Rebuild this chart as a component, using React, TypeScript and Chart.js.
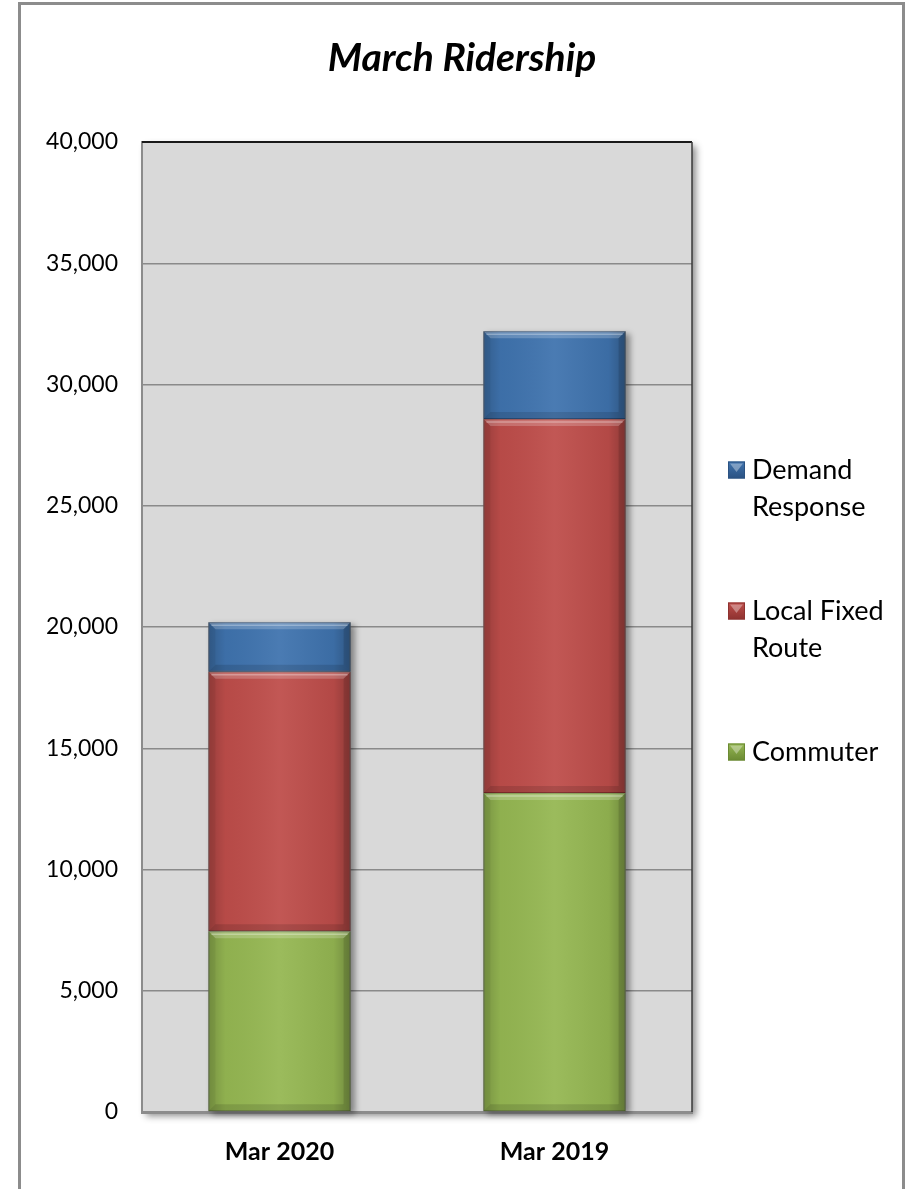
import React, { useEffect, useRef } from 'react';
import { Chart, registerables } from 'chart.js';

Chart.register(...registerables);

const categories = ['Mar 2020', 'Mar 2019'];
const commuter = [7450, 13150];
const localFixedRoute = [10700, 15430];
const demandResponse = [2050, 3620];
const seriesLabels = ['Commuter', 'Local Fixed Route', 'Demand Response'];
const seriesColors = ['#95b752', '#be4d4a', '#3f73ae'];
const seriesBorders = ['#6b8a33', '#8e3230', '#2b5282'];
const yMin = 0;
const yMax = 40000;
const yStep = 5000;
const chartTitle = 'March Ridership';

const FONT = 'Lato, "Open Sans", sans-serif';

const framePlugin = {
  id: 'frame',
  beforeDraw(chart: any) {
    const { ctx, chartArea: a } = chart;
    ctx.save();
    ctx.shadowColor = 'rgba(0,0,0,0.45)';
    ctx.shadowBlur = 7;
    ctx.shadowOffsetX = 4;
    ctx.shadowOffsetY = 4;
    ctx.fillStyle = '#d9d9d9';
    ctx.fillRect(a.left, a.top, a.right - a.left, a.bottom - a.top);
    ctx.restore();
  },
  afterDraw(chart: any) {
    const { ctx, chartArea: a } = chart;
    ctx.save();
    ctx.strokeStyle = '#1a1a1a';
    ctx.lineWidth = 2;
    ctx.beginPath();
    ctx.moveTo(a.left, a.top);
    ctx.lineTo(a.right, a.top);
    ctx.stroke();
    ctx.strokeStyle = '#3a3a3a';
    ctx.lineWidth = 1.5;
    ctx.beginPath();
    ctx.moveTo(a.right, a.top);
    ctx.lineTo(a.right, a.bottom);
    ctx.stroke();
    // title
    ctx.fillStyle = '#000';
    ctx.font = `italic bold 39px ${FONT}`;
    ctx.textAlign = 'center';
    ctx.textBaseline = 'middle';
    ctx.fillText(chartTitle, 462, 58);
    // legend
    const ds = chart.data.datasets;
    const centers = [470, 611, 752];
    ctx.font = `27px ${FONT}`;
    ctx.textAlign = 'left';
    for (let k = 0; k < ds.length; k++) {
      const d = ds[ds.length - 1 - k];
      const cy = centers[k];
      const bx = 728, bs = 17;
      const g = ctx.createLinearGradient(bx, cy - bs / 2, bx, cy + bs / 2);
      g.addColorStop(0, d.backgroundColor);
      g.addColorStop(1, d.borderColor);
      ctx.fillStyle = g;
      ctx.fillRect(bx, cy - bs / 2, bs, bs);
      ctx.fillStyle = 'rgba(255,255,255,0.35)';
      ctx.beginPath();
      ctx.moveTo(bx + 2, cy - bs / 2 + 2);
      ctx.lineTo(bx + bs - 2, cy - bs / 2 + 2);
      ctx.lineTo(bx + bs / 2, cy + 2);
      ctx.closePath();
      ctx.fill();
      ctx.strokeStyle = d.borderColor;
      ctx.lineWidth = 1;
      ctx.strokeRect(bx + 0.5, cy - bs / 2 + 0.5, bs - 1, bs - 1);
      // wrap
      const words = String(d.label).split(' ');
      const lines: string[] = [];
      let cur = '';
      for (const w of words) {
        const t = cur ? cur + ' ' + w : w;
        if (cur && ctx.measureText(t).width > 145) {
          lines.push(cur);
          cur = w;
        } else cur = t;
      }
      if (cur) lines.push(cur);
      ctx.fillStyle = '#000';
      lines.forEach((ln, i) => ctx.fillText(ln, 752, cy + i * 37));
    }
    ctx.restore();
  },
};

const bevelPlugin = {
  id: 'bevel',
  beforeDatasetsDraw(chart: any) {
    const { ctx } = chart;
    const metas = chart.getSortedVisibleDatasetMetas();
    if (!metas.length) return;
    const first = metas[0];
    const last = metas[metas.length - 1];
    ctx.save();
    ctx.shadowColor = 'rgba(0,0,0,0.4)';
    ctx.shadowBlur = 6;
    ctx.shadowOffsetX = 4;
    ctx.shadowOffsetY = 3;
    ctx.fillStyle = '#888';
    first.data.forEach((el: any, i: number) => {
      const top = last.data[i];
      const w = el.width;
      ctx.fillRect(el.x - w / 2, top.y, w, el.base - top.y);
    });
    ctx.restore();
  },
  afterDatasetsDraw(chart: any) {
    const { ctx } = chart;
    const metas = chart.getSortedVisibleDatasetMetas();
    ctx.save();
    metas.forEach((meta: any) => {
      meta.data.forEach((el: any) => {
        const w = el.width;
        const l = el.x - w / 2;
        const r = el.x + w / 2;
        const t = Math.min(el.y, el.base);
        const b = Math.max(el.y, el.base);
        const h = b - t;
        const gh = ctx.createLinearGradient(l, 0, r, 0);
        gh.addColorStop(0, 'rgba(0,0,0,0.2)');
        gh.addColorStop(0.12, 'rgba(0,0,0,0.04)');
        gh.addColorStop(0.5, 'rgba(255,255,255,0.06)');
        gh.addColorStop(0.88, 'rgba(0,0,0,0.06)');
        gh.addColorStop(1, 'rgba(0,0,0,0.25)');
        ctx.fillStyle = gh;
        ctx.fillRect(l, t, w, h);
        const bv = Math.min(7, h / 2);
        // top bevel
        ctx.fillStyle = 'rgba(255,255,255,0.2)';
        ctx.beginPath();
        ctx.moveTo(l, t);
        ctx.lineTo(r, t);
        ctx.lineTo(r - bv, t + bv);
        ctx.lineTo(l + bv, t + bv);
        ctx.closePath();
        ctx.fill();
        // bottom bevel
        ctx.fillStyle = 'rgba(0,0,0,0.12)';
        ctx.beginPath();
        ctx.moveTo(l, b);
        ctx.lineTo(r, b);
        ctx.lineTo(r - bv, b - bv);
        ctx.lineTo(l + bv, b - bv);
        ctx.closePath();
        ctx.fill();
        // right bevel
        ctx.fillStyle = 'rgba(0,0,0,0.12)';
        ctx.beginPath();
        ctx.moveTo(r, t);
        ctx.lineTo(r, b);
        ctx.lineTo(r - bv, b - bv);
        ctx.lineTo(r - bv, t + bv);
        ctx.closePath();
        ctx.fill();
        // left bevel
        ctx.fillStyle = 'rgba(0,0,0,0.05)';
        ctx.beginPath();
        ctx.moveTo(l, t);
        ctx.lineTo(l, b);
        ctx.lineTo(l + bv, b - bv);
        ctx.lineTo(l + bv, t + bv);
        ctx.closePath();
        ctx.fill();
        // top highlight line
        ctx.strokeStyle = 'rgba(255,255,255,0.3)';
        ctx.lineWidth = 1.5;
        ctx.beginPath();
        ctx.moveTo(l + 3, t + 3);
        ctx.lineTo(r - 3, t + 3);
        ctx.stroke();
      });
    });
    ctx.restore();
  },
};

export default function App() {
  const ref = useRef<HTMLCanvasElement | null>(null);
  useEffect(() => {
    if (!ref.current) return;
    const series = [commuter, localFixedRoute, demandResponse];
    const chart = new Chart(ref.current, {
      type: 'bar',
      data: {
        labels: categories,
        datasets: series.map((vals, i) => ({
          label: seriesLabels[i],
          data: vals,
          backgroundColor: seriesColors[i],
          borderColor: seriesBorders[i],
          borderWidth: 1,
          borderSkipped: false,
          categoryPercentage: 1,
          barPercentage: 0.517,
        })),
      },
      options: {
        animation: false,
        responsive: false,
        maintainAspectRatio: false,
        layout: { padding: { top: 142, right: 217, left: 0, bottom: 0 } },
        plugins: {
          legend: { display: false },
          title: { display: false },
          tooltip: { enabled: false },
        },
        scales: {
          x: {
            stacked: true,
            grid: { display: false, drawTicks: false },
            border: { display: true, color: '#8c8c8c', width: 3 },
            ticks: {
              color: '#000',
              font: { family: FONT, size: 25, weight: 'bold' },
              padding: 25,
            },
            afterFit(scale: any) {
              scale.height = 77;
            },
          },
          y: {
            stacked: true,
            min: yMin,
            max: yMax,
            grid: { color: '#8a8a8a', lineWidth: 1.5, drawTicks: false },
            border: { display: true, color: '#8c8c8c', width: 2 },
            ticks: {
              stepSize: yStep,
              color: '#000',
              font: { family: FONT, size: 23 },
              padding: 24,
              callback: (v: any) => Number(v).toLocaleString('en-US'),
            },
            afterFit(scale: any) {
              scale.width = 142;
            },
          },
        },
      },
      plugins: [framePlugin, bevelPlugin],
    });
    return () => chart.destroy();
  }, []);
  return (
    <div style={{ position: 'absolute', left: 0, top: 0, width: 909, height: 1189, overflow: 'hidden', background: '#fff' }}>
      <div style={{ position: 'absolute', left: 18, top: 2, width: 887, height: 1220, border: '3px solid #8c8c8c', boxSizing: 'border-box' }} />
      <canvas ref={ref} width={909} height={1189} style={{ position: 'absolute', left: 0, top: 0, width: 909, height: 1189 }} />
    </div>
  );
}
